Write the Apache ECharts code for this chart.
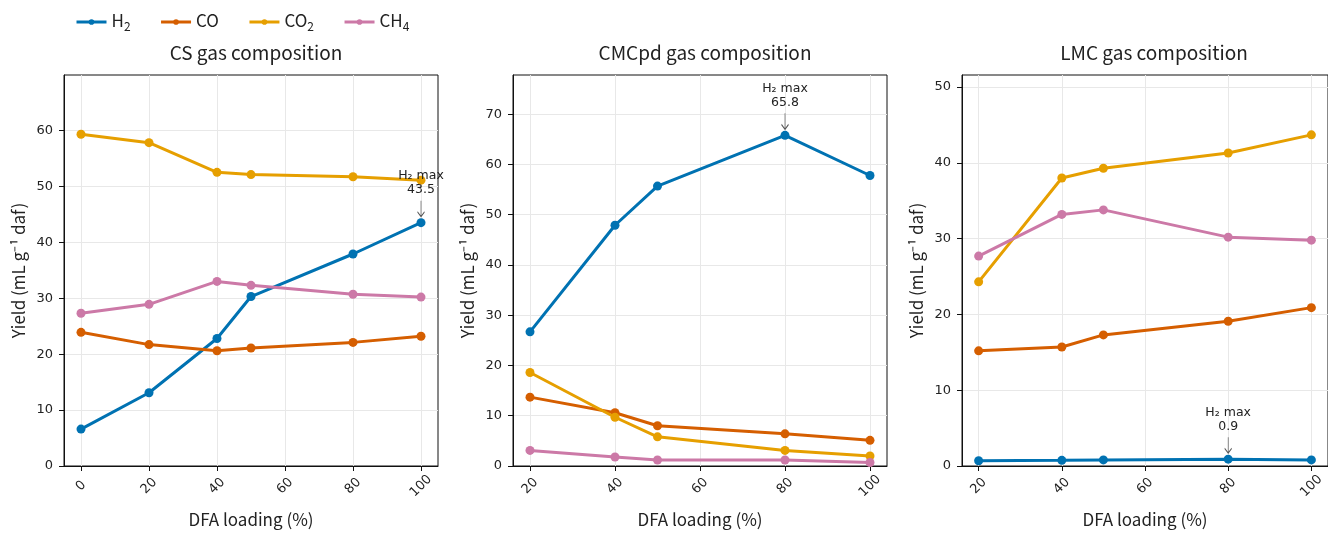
<!DOCTYPE html>
<html>
<head>
<meta charset="utf-8">
<script src="https://cdn.jsdelivr.net/npm/echarts@6/dist/echarts.min.js"></script>
<style>
  html, body { margin: 0; padding: 0; background: #fff; }
  #chart { width: 1328px; height: 533px; }
</style>
</head>
<body>
<div id="chart"></div>
<script>
// DFA loading (%) for each feedstock
var loadingCS = [0, 20, 40, 50, 80, 100];
var loadingCMC = [20, 40, 50, 80, 100];
var loadingLMC = [20, 40, 50, 80, 100];

// CS gas yields (mL/g daf)
var csH2 = [6.6, 13.1, 22.8, 30.3, 37.9, 43.5];
var csCO = [23.9, 21.7, 20.6, 21.1, 22.1, 23.2];
var csCO2 = [59.3, 57.8, 52.5, 52.1, 51.7, 51.1];
var csCH4 = [27.3, 28.9, 33.0, 32.3, 30.7, 30.2];

// CMCpd gas yields
var cmcH2 = [26.7, 47.9, 55.7, 65.8, 57.8];
var cmcCO = [13.7, 10.6, 8.0, 6.4, 5.1];
var cmcCO2 = [18.6, 9.7, 5.8, 3.1, 2.0];
var cmcCH4 = [3.1, 1.8, 1.2, 1.2, 0.7];

// LMC gas yields
var lmcH2 = [0.7, 0.75, 0.8, 0.9, 0.8];
var lmcCO = [15.2, 15.7, 17.3, 19.1, 20.9];
var lmcCO2 = [24.3, 38.0, 39.3, 41.3, 43.7];
var lmcCH4 = [27.7, 33.2, 33.8, 30.2, 29.8];

var gasNames = ["H2", "CO", "CO2", "CH4"];
var gasColors = ["#0072B2", "#D55E00", "#E69F00", "#CC79A7"];
var panelTitles = ["CS gas composition", "CMCpd gas composition", "LMC gas composition"];
var xTicksCS = [0, 20, 40, 60, 80, 100];
var xTicksOther = [20, 40, 60, 80, 100];

var panels = [
  { x: loadingCS, gases: [csH2, csCO, csCO2, csCH4], xmin: -5, xmax: 105, xticks: xTicksCS,
    ymax: 69.9, yticks: [0, 10, 20, 30, 40, 50, 60], left: 64 },
  { x: loadingCMC, gases: [cmcH2, cmcCO, cmcCO2, cmcCH4], xmin: 16, xmax: 104, xticks: xTicksOther,
    ymax: 77.8, yticks: [0, 10, 20, 30, 40, 50, 60, 70], left: 513 },
  { x: loadingLMC, gases: [lmcH2, lmcCO, lmcCO2, lmcCH4], xmin: 16, xmax: 104, xticks: xTicksOther,
    ymax: 51.6, yticks: [0, 10, 20, 30, 40, 50], left: 962 }
];

var gridW = 374, gridTop = 75, gridH = 393;
var gridLine = { show: true, lineStyle: { color: "#e8e8e8", width: 1 } };
var tickFont = { fontFamily: "DejaVu Sans", fontSize: 13, color: "#222" };
var nameFont = { fontFamily: "Noto Sans CJK SC", fontSize: 17, color: "#222" };

var grids = [], xAxes = [], yAxes = [], titles = [], series = [];

panels.forEach(function (p, i) {
  grids.push({ left: p.left, top: gridTop, width: gridW, height: gridH,
    show: true, borderColor: "#111", borderWidth: 1, backgroundColor: "transparent" });
  titles.push({ text: panelTitles[i], left: p.left + gridW / 2, top: 38, textAlign: "center",
    textStyle: { fontFamily: "Noto Sans CJK SC", fontSize: 19, fontWeight: "normal", color: "#222" } });
  xAxes.push({
    type: "value", gridIndex: i, min: p.xmin, max: p.xmax,
    name: "DFA loading (%)", nameLocation: "middle", nameGap: 45, nameTextStyle: nameFont,
    axisLine: { show: true, onZero: false, lineStyle: { color: "#111" } },
    axisTick: { show: true, length: 5, lineStyle: { color: "#111" }, customValues: p.xticks },
    axisLabel: Object.assign({ rotate: 45, margin: 20, align: "center", verticalAlign: "middle",
      customValues: p.xticks }, tickFont),
    splitLine: gridLine
  });
  yAxes.push({
    type: "value", gridIndex: i, min: 0, max: p.ymax,
    name: "Yield (mL g\u207B\u00B9 daf)", nameLocation: "middle", nameGap: 37, nameTextStyle: nameFont,
    axisLine: { show: true, onZero: false, lineStyle: { color: "#111" } },
    axisTick: { show: true, length: 5, lineStyle: { color: "#111" }, customValues: p.yticks },
    axisLabel: Object.assign({ margin: 11, customValues: p.yticks }, tickFont),
    splitLine: gridLine
  });

  p.gases.forEach(function (vals, g) {
    var s = {
      name: gasNames[g], type: "line", xAxisIndex: i, yAxisIndex: i,
      data: vals.map(function (v, k) { return [p.x[k], v]; }),
      symbol: "circle", symbolSize: 9, showSymbol: true,
      lineStyle: { width: 3, color: gasColors[g] },
      itemStyle: { color: gasColors[g] },
      z: 2 + g, animation: false
    };
    if (g === 0) {
      var maxIdx = vals.indexOf(Math.max.apply(null, vals));
      s.markPoint = {
        symbol: "path://M5 0 L5 20 M1 14 L5 20 L9 14",
        symbolSize: [7, 16], symbolOffset: [0, -14],
        itemStyle: { color: "none", borderColor: "#555", borderWidth: 1 },
        label: {
          show: true, position: "top", distance: 0,
          formatter: "H\u2082 max\n" + vals[maxIdx].toFixed(1),
          fontFamily: "DejaVu Sans", fontSize: 12.5, lineHeight: 14, color: "#222", align: "center"
        },
        silent: true, animation: false,
        data: [{ coord: [p.x[maxIdx], vals[maxIdx]] }]
      };
    }
    series.push(s);
  });
});

// legend labels with subscripts
var legendRich = {
  n: { fontFamily: "Noto Sans CJK SC", fontSize: 17, color: "#222", verticalAlign: "bottom", padding: [0, 0, 3, 0] },
  s: { fontFamily: "Noto Sans CJK SC", fontSize: 12, color: "#222", verticalAlign: "bottom" }
};

var chart = echarts.init(document.getElementById("chart"), null, { renderer: "canvas" });
chart.setOption({
  animation: false,
  color: gasColors,
  title: titles,
  legend: {
    data: gasNames, left: 75, top: 12, padding: 0, itemWidth: 30, itemHeight: 7, itemGap: 29,
    lineStyle: { width: 3 },
    formatter: function (name) {
      return name.replace(/^([A-Z]+)(\d?)$/, function (m, a, b) {
        return "{n|" + a + "}" + (b ? "{s|" + b + "}" : "");
      });
    },
    textStyle: { rich: legendRich }
  },
  grid: grids,
  xAxis: xAxes,
  yAxis: yAxes,
  series: series
});
</script>
</body>
</html>
